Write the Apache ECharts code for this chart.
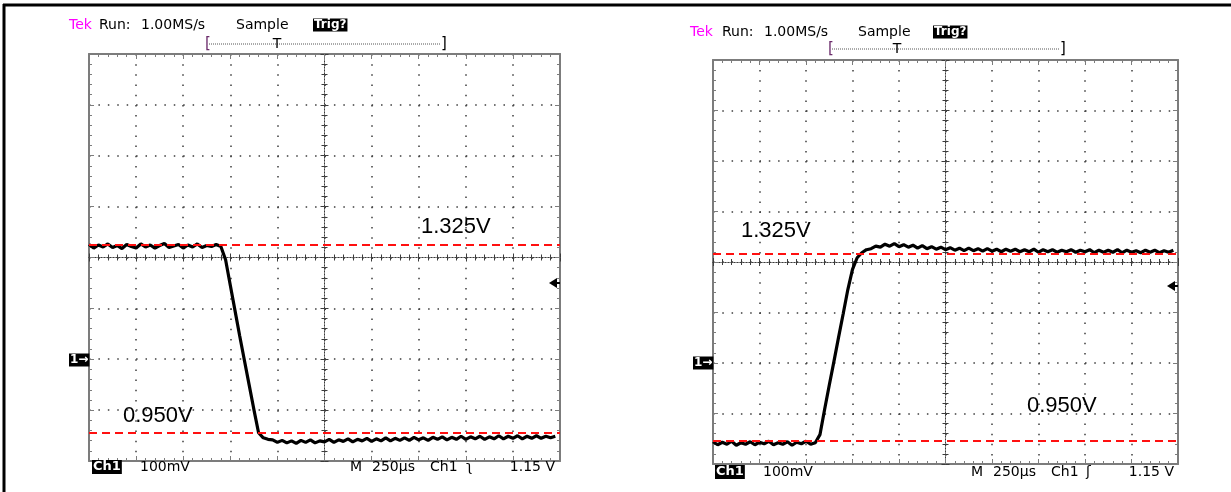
<!DOCTYPE html>
<html lang="en">
<head>
    <meta charset="UTF-8">
    <title>Tek captures</title>
    <style>
        body { margin: 0; background: #fff; }
        #main { width: 1231px; height: 492px; }
    </style>
</head>
<body>
    <div id="main"></div>
    <script src="https://cdn.jsdelivr.net/npm/echarts@6/dist/echarts.min.js"></script>
    <script>
        // 250us/div, 10 divisions, one sample kept every 25us
        var usPerDiv = 250;
        var sampleStep = 25;

        // Ch1 (V), falling step: 1.325V -> 0.950V
        var fallVolts = [
            1.320, 1.313, 1.319, 1.315, 1.321, 1.314, 1.318, 1.312, 1.320, 1.316,
            1.313, 1.321, 1.315, 1.319, 1.313, 1.318, 1.322, 1.314, 1.317, 1.320,
            1.313, 1.319, 1.315, 1.321, 1.314, 1.318, 1.316, 1.320, 1.316,
            1.290, 1.240, 1.190, 1.140, 1.092, 1.044, 0.996, 0.950, 0.940, 0.937,
            0.936, 0.931, 0.935, 0.930, 0.934, 0.929, 0.935, 0.931, 0.936, 0.930,
            0.934, 0.932, 0.937, 0.931, 0.936, 0.933, 0.938, 0.932, 0.937, 0.934,
            0.939, 0.933, 0.938, 0.934, 0.940, 0.934, 0.939, 0.935, 0.940, 0.935,
            0.941, 0.936, 0.940, 0.935, 0.941, 0.937, 0.942, 0.936, 0.941, 0.937,
            0.943, 0.937, 0.942, 0.938, 0.943, 0.937, 0.942, 0.938, 0.944, 0.938,
            0.943, 0.939, 0.944, 0.938, 0.943, 0.939, 0.944, 0.939, 0.943, 0.940,
            0.943
        ];

        // Ch1 (V), rising step: 0.950V -> 1.325V
        var riseVolts = [
            0.948, 0.942, 0.947, 0.943, 0.949, 0.941, 0.946, 0.943, 0.948, 0.942,
            0.947, 0.944, 0.949, 0.942, 0.946, 0.943, 0.948, 0.941, 0.947, 0.944,
            0.949, 0.943, 0.946,
            0.962, 1.012, 1.060, 1.107, 1.155, 1.202, 1.250, 1.290, 1.313, 1.323,
            1.329, 1.331, 1.336, 1.334, 1.340, 1.336, 1.341, 1.335,
            1.339, 1.334, 1.338, 1.332, 1.337, 1.331, 1.335, 1.330, 1.334, 1.329,
            1.333, 1.328, 1.332, 1.327, 1.332, 1.327, 1.331, 1.326, 1.331, 1.326,
            1.330, 1.325, 1.330, 1.326, 1.330, 1.325, 1.329, 1.325, 1.330, 1.324,
            1.329, 1.325, 1.329, 1.324, 1.328, 1.325, 1.329, 1.324, 1.328, 1.325,
            1.329, 1.323, 1.328, 1.324, 1.328, 1.324, 1.329, 1.323, 1.328, 1.324,
            1.327, 1.323, 1.328, 1.324, 1.328, 1.323, 1.327, 1.324, 1.328
        ];

        // the two reference levels drawn over each capture
        var refLevels = [1.325, 0.950];
        var refLabels = ['1.325V', '0.950V'];

        // visible voltage window of each screen (8 div x 100mV)
        var fallRange = [0.8944, 1.6944];
        var riseRange = [0.9038, 1.7054];

        var frameColor = '#7c7c7c';
        var dotColor = '#3c3c3c';
        var scopeFont = '14px "DejaVu Sans"';

        var chartDom = document.getElementById('main');
        var myChart = echarts.init(chartDom);

        var grids = [
            { left: 89, top: 54, width: 471, height: 407 },
            { left: 713, top: 60, width: 465, height: 404 }
        ];

        function xAxesFor(g) {
            var h = grids[g].height;
            var base = { gridIndex: g, type: 'value', min: 0, max: usPerDiv * 10, interval: usPerDiv,
                axisLabel: { show: false } };
            var frame = {
                axisLine: { onZero: false, lineStyle: { color: frameColor, width: 2 } },
                axisTick: { inside: true, length: 5, lineStyle: { color: frameColor } },
                minorTick: { show: true, splitNumber: 5, length: 3, lineStyle: { color: frameColor } }
            };
            var mid = {
                position: 'bottom', offset: -h / 2,
                axisLine: { onZero: false, lineStyle: { color: dotColor, width: 1, type: [1, 2] } },
                minorTick: { show: true, splitNumber: 5, length: 3, lineStyle: { color: dotColor } },
                splitLine: { show: false }
            };
            return [
                Object.assign({}, base, frame, { position: 'bottom',
                    splitLine: { show: true, lineStyle: { color: dotColor, width: 1.5, type: [1.5, h / 40 - 1.5] } } }),
                Object.assign({}, base, frame, { position: 'top', splitLine: { show: false } }),
                Object.assign({}, base, mid, { axisTick: { inside: true, length: 4, lineStyle: { color: dotColor } } }),
                Object.assign({}, base, mid, { axisTick: { inside: false, length: 4, lineStyle: { color: dotColor } } })
            ];
        }

        function yAxesFor(g, range) {
            var w = grids[g].width;
            var step = (range[1] - range[0]) / 8;
            var base = { gridIndex: g, type: 'value', min: range[0], max: range[1], interval: step,
                axisLabel: { show: false } };
            var frame = {
                axisLine: { onZero: false, lineStyle: { color: frameColor, width: 2 } },
                axisTick: { inside: true, length: 5, lineStyle: { color: frameColor } },
                minorTick: { show: true, splitNumber: 5, length: 3, lineStyle: { color: frameColor } }
            };
            var mid = {
                position: 'left', offset: -w / 2,
                axisLine: { onZero: false, lineStyle: { color: dotColor, width: 1, type: [1, 2] } },
                minorTick: { show: true, splitNumber: 5, length: 3, lineStyle: { color: dotColor } },
                splitLine: { show: false }
            };
            return [
                Object.assign({}, base, frame, { position: 'left',
                    splitLine: { show: true, lineStyle: { color: dotColor, width: 1.5, type: [1.5, w / 50 - 1.5] } } }),
                Object.assign({}, base, frame, { position: 'right', splitLine: { show: false } }),
                Object.assign({}, base, mid, { axisTick: { inside: true, length: 4, lineStyle: { color: dotColor } } }),
                Object.assign({}, base, mid, { axisTick: { inside: false, length: 4, lineStyle: { color: dotColor } } })
            ];
        }

        function trace(values, axisIndex) {
            return {
                type: 'line',
                xAxisIndex: axisIndex,
                yAxisIndex: axisIndex,
                data: values.map(function (v, i) { return [i * sampleStep, v]; }),
                showSymbol: false,
                lineStyle: { color: '#000', width: 3.2 },
                markLine: {
                    silent: true,
                    symbol: ['none', 'none'],
                    label: { show: false },
                    lineStyle: { color: '#ff1010', type: [8, 5], width: 2 },
                    data: refLevels.map(function (v) { return { yAxis: v }; })
                }
            };
        }

        // plain text helper for the scope read-outs
        function txt(x, y, s, extra) {
            return {
                type: 'text', x: x, y: y, z: 100,
                style: Object.assign({ text: s, font: scopeFont, fill: '#000',
                    align: 'left', verticalAlign: 'middle' }, extra || {})
            };
        }
        function inv(x, y, s, font) {
            return txt(x, y, s, { fill: '#fff', font: font, backgroundColor: '#000', padding: [1, 1, 0, 1] });
        }
        function arrow(x, y) {
            return [
                { type: 'polygon', z: 100, shape: { points: [[x, y], [x + 8, y - 5], [x + 8, y + 5]] }, style: { fill: '#000' } },
                { type: 'line', z: 100, shape: { x1: x + 6, y1: y, x2: x + 11, y2: y }, style: { stroke: '#000', lineWidth: 2 } }
            ];
        }
        function bracket(x1, x2, tx, y) {
            return [
                txt(x1, y, '[', { fill: '#6b2b6b', font: '15px "DejaVu Sans"' }),
                { type: 'line', z: 100, shape: { x1: x1 + 4, y1: y, x2: x2, y2: y },
                  style: { stroke: '#555', lineWidth: 1, lineDash: [1, 1] } },
                txt(tx, y, 'T', { align: 'center' }),
                txt(x2, y, ']', { font: '15px "DejaVu Sans"' })
            ];
        }

        var bigFont = '22px "Liberation Sans"';
        var graphics = [
            { type: 'line', z: 100, shape: { x1: 3, y1: 5, x2: 1231, y2: 5 }, style: { stroke: '#000', lineWidth: 3 } },
            { type: 'line', z: 100, shape: { x1: 4, y1: 4, x2: 4, y2: 492 }, style: { stroke: '#000', lineWidth: 3 } },

            // left capture
            txt(69, 25, 'Tek', { fill: '#ff00ff' }),
            txt(99, 25, 'Run:'),
            txt(141, 25, '1.00MS/s'),
            txt(236, 25, 'Sample'),
            inv(313, 25, 'Trig?', 'bold 12px "DejaVu Sans"'),
            txt(421, 227, refLabels[0], { font: bigFont }),
            txt(123, 416, refLabels[1], { font: bigFont }),
            inv(69, 360, '1\u2192', 'bold 12px "DejaVu Sans"'),
            inv(92, 467, 'Ch1', 'bold 13px "DejaVu Sans"'),
            txt(140, 467, '100mV'),
            txt(350, 467, 'M'),
            txt(372, 467, '250\u00b5s'),
            txt(430, 467, 'Ch1'),
            txt(466, 467, '\u0285'),
            txt(555, 467, '1.15 V', { align: 'right' }),

            // right capture
            txt(690, 32, 'Tek', { fill: '#ff00ff' }),
            txt(722, 32, 'Run:'),
            txt(764, 32, '1.00MS/s'),
            txt(858, 32, 'Sample'),
            inv(933, 32, 'Trig?', 'bold 12px "DejaVu Sans"'),
            txt(741, 231, refLabels[0], { font: bigFont }),
            txt(1027, 406, refLabels[1], { font: bigFont }),
            inv(693, 363, '1\u2192', 'bold 12px "DejaVu Sans"'),
            inv(715, 472, 'Ch1', 'bold 13px "DejaVu Sans"'),
            txt(763, 472, '100mV'),
            txt(971, 472, 'M'),
            txt(993, 472, '250\u00b5s'),
            txt(1051, 472, 'Ch1'),
            txt(1086, 472, '\u0283'),
            txt(1174, 472, '1.15 V', { align: 'right' })
        ].concat(bracket(205, 441, 277, 44), bracket(828, 1060, 897, 49),
                 arrow(549, 283), arrow(1167, 286));

        var option = {
            animation: false,
            backgroundColor: '#fff',
            grid: grids,
            xAxis: xAxesFor(0).concat(xAxesFor(1)),
            yAxis: yAxesFor(0, fallRange).concat(yAxesFor(1, riseRange)),
            series: [trace(fallVolts, 0), trace(riseVolts, 4)],
            graphic: graphics
        };
        option && myChart.setOption(option);
    </script>
</body>
</html>
